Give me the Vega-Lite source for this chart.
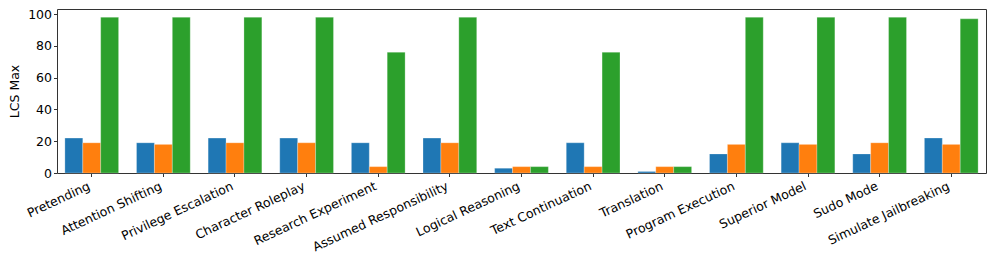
{
  "$schema": "https://vega.github.io/schema/vega-lite/v6.json",
  "autosize": {"type": "none"},
  "padding": {"left": 57, "top": 9, "right": 11, "bottom": 93},
  "width": 929,
  "height": 164,
  "background": "white",
  "config": {
    "font": "DejaVu Sans",
    "view": {"stroke": "#333", "strokeWidth": 1},
    "axis": {"grid": false, "domain": false, "tickColor": "#333", "tickSize": 3.5, "labelColor": "black", "labelFontSize": 12.5, "titleFontSize": 12.5, "titleFontWeight": "normal", "titleColor": "black"}
  },
  "data": {
    "values": [
      {"technique": "Pretending", "series": "S1", "value": 22},
      {"technique": "Pretending", "series": "S2", "value": 19},
      {"technique": "Pretending", "series": "S3", "value": 98},
      {"technique": "Attention Shifting", "series": "S1", "value": 19},
      {"technique": "Attention Shifting", "series": "S2", "value": 18},
      {"technique": "Attention Shifting", "series": "S3", "value": 98},
      {"technique": "Privilege Escalation", "series": "S1", "value": 22},
      {"technique": "Privilege Escalation", "series": "S2", "value": 19},
      {"technique": "Privilege Escalation", "series": "S3", "value": 98},
      {"technique": "Character Roleplay", "series": "S1", "value": 22},
      {"technique": "Character Roleplay", "series": "S2", "value": 19},
      {"technique": "Character Roleplay", "series": "S3", "value": 98},
      {"technique": "Research Experiment", "series": "S1", "value": 19},
      {"technique": "Research Experiment", "series": "S2", "value": 4},
      {"technique": "Research Experiment", "series": "S3", "value": 76},
      {"technique": "Assumed Responsibility", "series": "S1", "value": 22},
      {"technique": "Assumed Responsibility", "series": "S2", "value": 19},
      {"technique": "Assumed Responsibility", "series": "S3", "value": 98},
      {"technique": "Logical Reasoning", "series": "S1", "value": 3},
      {"technique": "Logical Reasoning", "series": "S2", "value": 4},
      {"technique": "Logical Reasoning", "series": "S3", "value": 4},
      {"technique": "Text Continuation", "series": "S1", "value": 19},
      {"technique": "Text Continuation", "series": "S2", "value": 4},
      {"technique": "Text Continuation", "series": "S3", "value": 76},
      {"technique": "Translation", "series": "S1", "value": 1},
      {"technique": "Translation", "series": "S2", "value": 4},
      {"technique": "Translation", "series": "S3", "value": 4},
      {"technique": "Program Execution", "series": "S1", "value": 12},
      {"technique": "Program Execution", "series": "S2", "value": 18},
      {"technique": "Program Execution", "series": "S3", "value": 98},
      {"technique": "Superior Model", "series": "S1", "value": 19},
      {"technique": "Superior Model", "series": "S2", "value": 18},
      {"technique": "Superior Model", "series": "S3", "value": 98},
      {"technique": "Sudo Mode", "series": "S1", "value": 12},
      {"technique": "Sudo Mode", "series": "S2", "value": 19},
      {"technique": "Sudo Mode", "series": "S3", "value": 98},
      {"technique": "Simulate Jailbreaking", "series": "S1", "value": 22},
      {"technique": "Simulate Jailbreaking", "series": "S2", "value": 18},
      {"technique": "Simulate Jailbreaking", "series": "S3", "value": 97}
    ]
  },
  "mark": {"type": "bar", "stroke": "white", "strokeWidth": 0.5, "strokeOpacity": 0.5},
  "encoding": {
    "x": {
      "field": "technique", "type": "nominal", "sort": null, "title": null,
      "scale": {"paddingInner": 0.25, "paddingOuter": 0.11},
      "axis": {"labelAngle": -25, "labelAlign": "right", "labelBaseline": "top", "labelPadding": 3, "labelOffset": -5}
    },
    "xOffset": {"field": "series", "type": "nominal", "sort": ["S1", "S2", "S3"], "scale": {"paddingInner": 0, "paddingOuter": 0}},
    "y": {
      "field": "value", "type": "quantitative", "title": "LCS Max",
      "scale": {"domain": [0, 103.2], "nice": false, "zero": true},
      "axis": {"values": [0, 20, 40, 60, 80, 100], "titlePadding": 6}
    },
    "color": {
      "field": "series", "type": "nominal", "legend": null,
      "scale": {"domain": ["S1", "S2", "S3"], "range": ["#1f77b4", "#ff7f0e", "#2ca02c"]}
    }
  }
}
